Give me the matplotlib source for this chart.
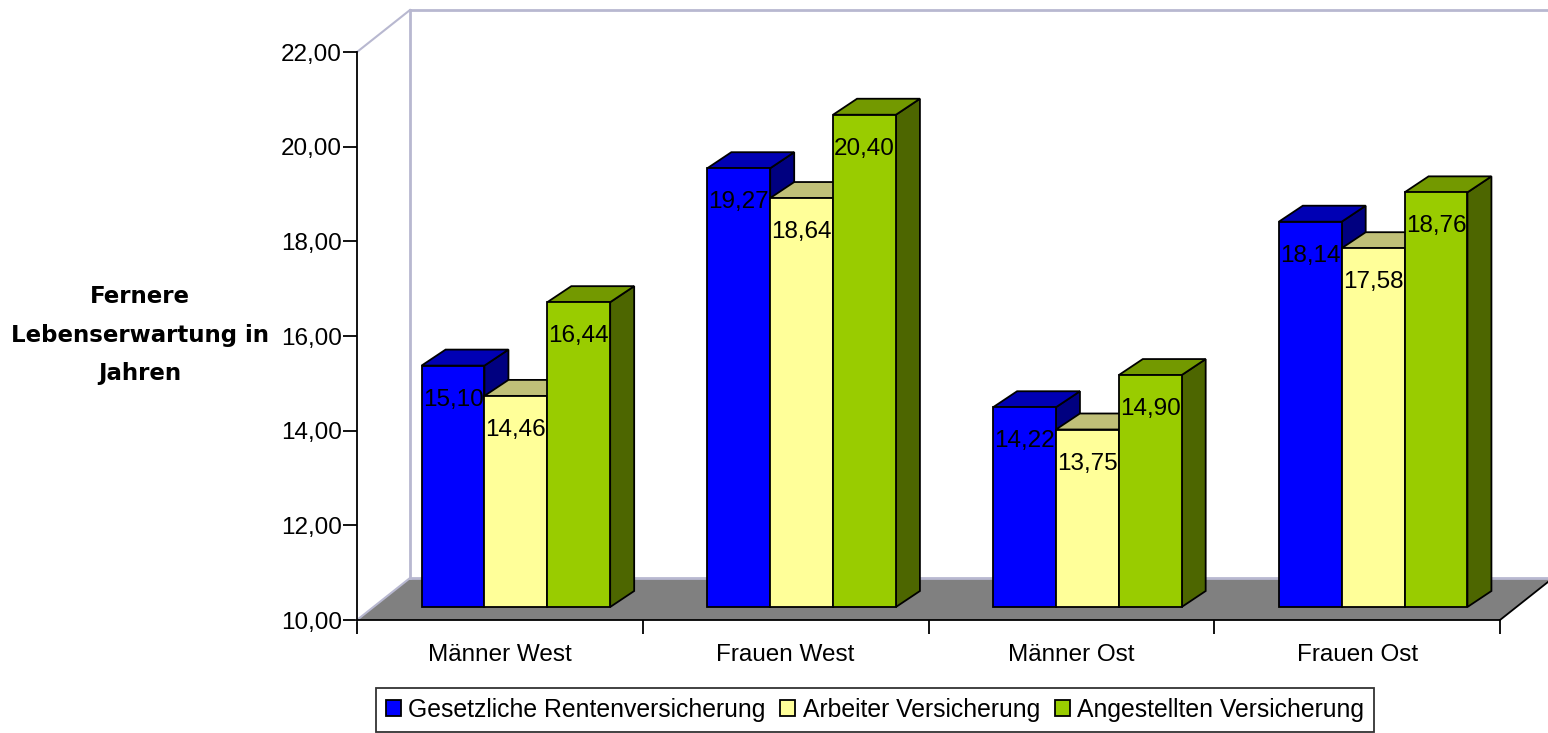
import matplotlib
matplotlib.use('Agg')
import matplotlib.pyplot as plt
from matplotlib.patches import Polygon, Patch
from matplotlib.transforms import offset_copy

plt.rcParams['font.family'] = ['Liberation Sans', 'DejaVu Sans']

categories = ['Männer West', 'Frauen West', 'Männer Ost', 'Frauen Ost']
series_names = ['Gesetzliche Rentenversicherung', 'Arbeiter Versicherung', 'Angestellten Versicherung']
gesetzlich = [15.10, 19.27, 14.22, 18.14]
arbeiter = [14.46, 18.64, 13.75, 17.58]
angestellte = [16.44, 20.40, 14.90, 18.76]
y_ticks = [10, 12, 14, 16, 18, 20, 22]

# front / top / side colours per series
colors = [
    ('#0000FF', '#0000B4', '#000080'),
    ('#FFFF99', '#C0C078', '#8C8C5A'),
    ('#99CC00', '#739900', '#4D6600'),
]

W, H = 1548, 733
fig = plt.figure(figsize=(W / 100, H / 100), dpi=100)
ax = fig.add_axes([357 / W, (H - 620) / H, (1500 - 357) / W, (620 - 52) / H])
ax.set_xlim(0, 4)
ax.set_ylim(10, 22)

# oblique offsets in pixels
BACK = (53, 42)      # back wall
FRONT = (16, 13)     # front plane of the bars
DEPTH = (24, 16)     # depth of a bar

def shifted(dx, dy):
    return offset_copy(ax.transData, fig=fig, x=dx, y=dy, units='dots')

t_back = shifted(*BACK)
t_front = shifted(*FRONT)
t_bar_back = shifted(FRONT[0] + DEPTH[0], FRONT[1] + DEPTH[1])
inv = ax.transData.inverted()

wall = '#B8B8D0'
# floor
floor = [(0, 10), (4, 10)]
xs_f = [ax.transData.transform(p) for p in floor]
xs_b = [t_back.transform(p) for p in floor[::-1]]
floor_pts = [inv.transform(p) for p in xs_f + xs_b]
ax.add_patch(Polygon(floor_pts, closed=True, fc='#808080', ec='none', clip_on=False, zorder=1))
ax.plot(*zip(*[floor_pts[1], floor_pts[2]]), color='k', lw=1.3, clip_on=False, zorder=2)
ax.plot(*zip(*[floor_pts[0], floor_pts[3]]), color=wall, lw=1.5, clip_on=False, zorder=2)

# back wall edges
ax.plot([0, 0], [10, 22], color=wall, lw=2, transform=t_back, clip_on=False, zorder=1)
ax.plot([0, 4.2], [22, 22], color=wall, lw=2, transform=t_back, clip_on=False, zorder=1)
ax.plot([0, 4.2], [10, 10], color=wall, lw=2, transform=t_back, clip_on=False, zorder=1)
top_l = [ax.transData.transform((0, 22)), t_back.transform((0, 22))]
top_l = [inv.transform(p) for p in top_l]
ax.plot(*zip(*top_l), color=wall, lw=1.5, clip_on=False, zorder=1)

# bars
bar_w = 0.22
values = [gesetzlich, arbeiter, angestellte]
z = 3
for i in range(len(categories)):
    for s in range(3):
        v = values[s][i]
        x0 = i + 0.5 + (s - 1.5) * bar_w
        x1 = x0 + bar_w
        face, top, side = colors[s]
        fpts = [t_front.transform(p) for p in [(x0, 10), (x1, 10), (x1, v), (x0, v)]]
        bpts = [t_bar_back.transform(p) for p in [(x0, 10), (x1, 10), (x1, v), (x0, v)]]
        fpts = [inv.transform(p) for p in fpts]
        bpts = [inv.transform(p) for p in bpts]
        kw = dict(closed=True, ec='k', lw=1.3, clip_on=False, joinstyle='miter')
        ax.add_patch(Polygon([fpts[1], bpts[1], bpts[2], fpts[2]], fc=side, zorder=z, **kw))
        ax.add_patch(Polygon([fpts[3], fpts[2], bpts[2], bpts[3]], fc=top, zorder=z + 0.1, **kw))
        ax.add_patch(Polygon(fpts, fc=face, zorder=z + 0.2, **kw))
        ax.text((x0 + x1) / 2, v, f'{v:.2f}'.replace('.', ','), ha='center', va='center',
                fontsize=17.5, transform=shifted(FRONT[0], FRONT[1] - 34),
                zorder=z + 0.3, clip_on=False)
        z += 1

# axes styling
for side in ['top', 'right']:
    ax.spines[side].set_visible(False)
ax.spines['left'].set_linewidth(1.3)
ax.spines['bottom'].set_linewidth(1.3)
ax.spines['left'].set_zorder(2)
ax.spines['bottom'].set_zorder(2)
ax.set_yticks(y_ticks)
ax.set_yticklabels([f'{t:.2f}'.replace('.', ',') for t in y_ticks], fontsize=17.5)
ax.tick_params(axis='y', length=10, width=1.3, pad=1)
ax.set_xticks([0, 1, 2, 3, 4])
ax.set_xticklabels([])
ax.tick_params(axis='x', length=10, width=1.3)
ax.set_xticks([0.5, 1.5, 2.5, 3.5], minor=True)
ax.set_xticklabels(categories, minor=True, fontsize=17.5)
ax.tick_params(axis='x', which='minor', length=0, pad=17)
ax.patch.set_visible(False)

fig.text(140 / W, 1 - 335 / H, 'Fernere\nLebenserwartung in\nJahren', ha='center', va='center',
         fontsize=16.5, fontweight='bold', linespacing=1.85, family='DejaVu Sans')

handles = [Patch(fc=c[0], ec='k', lw=1.3) for c in colors]
leg = fig.legend(handles, series_names, loc='center', bbox_to_anchor=(875 / W, 1 - 710 / H),
                 ncol=3, fontsize=17.8, frameon=True, fancybox=False, edgecolor='k',
                 handlelength=0.6, handleheight=0.6, handletextpad=0.3, columnspacing=0.6,
                 borderpad=0.4, borderaxespad=0)
leg.get_frame().set_linewidth(1.3)

fig.savefig('out.png', dpi=100)
